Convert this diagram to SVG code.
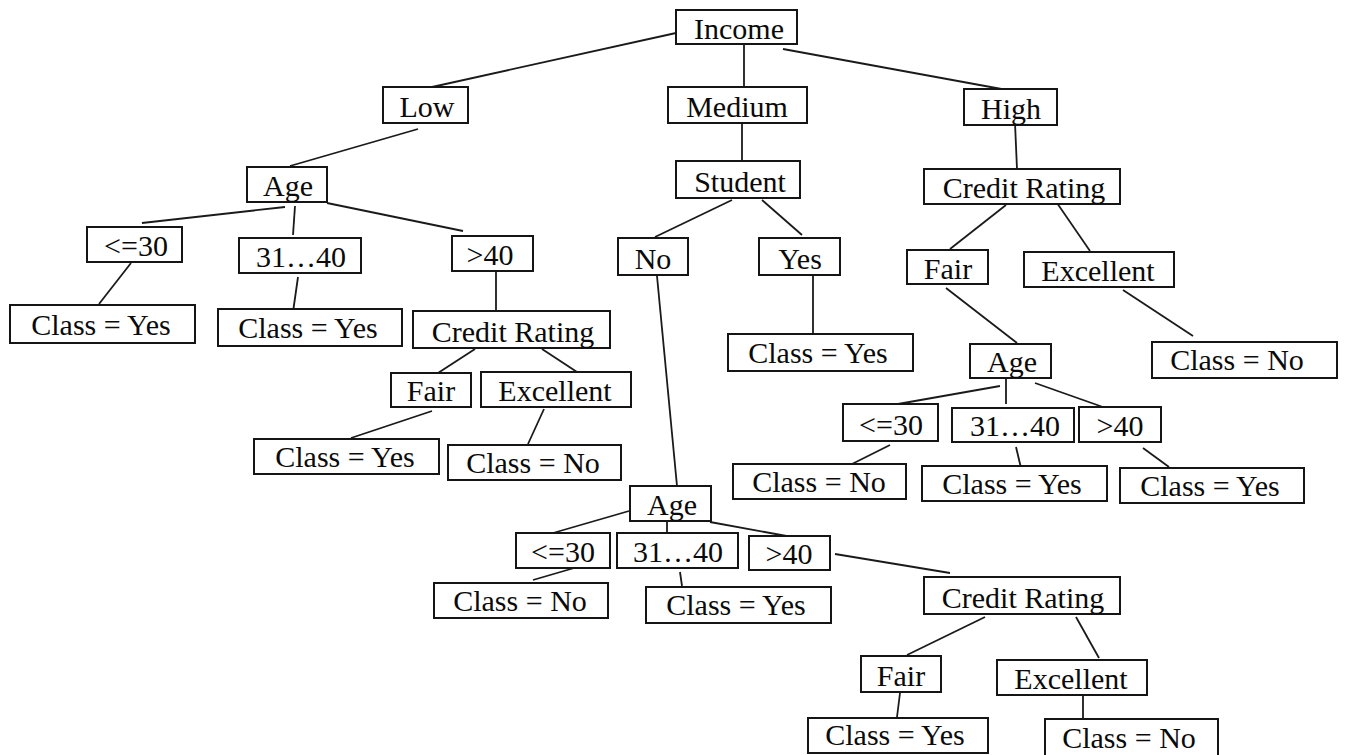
<svg xmlns="http://www.w3.org/2000/svg" width="1347" height="755" viewBox="0 0 1347 755">
  <style>
    .box { fill: #ffffff; stroke: #151515; stroke-width: 2; }
    .lbl { font-family: 'Liberation Serif', 'Times New Roman', Times, serif; font-size: 30px; fill: #0a0a0a; text-anchor: middle; }
    .edge line { stroke: #1a1a1a; stroke-width: 1.8; }
  </style>
  <rect x="0" y="0" width="1347" height="755" fill="#ffffff"/>

  <!-- connectors -->
  <g id="connectors" class="edge">
    <line x1="676" y1="33" x2="423" y2="89"/>
    <line x1="744" y1="44" x2="744" y2="87"/>
    <line x1="783" y1="49" x2="1007" y2="90"/>
    <line x1="418" y1="129" x2="290" y2="166"/>
    <line x1="285" y1="207" x2="142" y2="223"/>
    <line x1="295" y1="206" x2="293" y2="235"/>
    <line x1="327" y1="203" x2="463" y2="231"/>
    <line x1="131" y1="263" x2="99" y2="304"/>
    <line x1="298" y1="277" x2="293" y2="312"/>
    <line x1="496" y1="271" x2="496" y2="311"/>
    <line x1="742" y1="123" x2="742" y2="161"/>
    <line x1="732" y1="200" x2="655" y2="237"/>
    <line x1="762" y1="200" x2="802" y2="235"/>
    <line x1="813" y1="275" x2="813" y2="334"/>
    <line x1="657" y1="276" x2="677" y2="486"/>
    <line x1="1015" y1="123" x2="1017" y2="169"/>
    <line x1="1006" y1="205" x2="950" y2="249"/>
    <line x1="1057" y1="203" x2="1090" y2="251"/>
    <line x1="946" y1="288" x2="1017" y2="343"/>
    <line x1="1123" y1="290" x2="1193" y2="336"/>
    <line x1="1000" y1="386" x2="898" y2="404"/>
    <line x1="1006" y1="378" x2="1006" y2="404"/>
    <line x1="1035" y1="383" x2="1117" y2="412"/>
    <line x1="890" y1="445" x2="836" y2="472"/>
    <line x1="1016" y1="447" x2="1021" y2="468"/>
    <line x1="1143" y1="448" x2="1169" y2="467"/>
    <line x1="475" y1="349" x2="438" y2="373"/>
    <line x1="542" y1="349" x2="577" y2="372"/>
    <line x1="432" y1="411" x2="351" y2="438"/>
    <line x1="544" y1="409" x2="528" y2="444"/>
    <line x1="629" y1="511" x2="553" y2="533"/>
    <line x1="667" y1="521" x2="667" y2="533"/>
    <line x1="710" y1="522" x2="792" y2="537"/>
    <line x1="581" y1="566" x2="533" y2="580"/>
    <line x1="680" y1="572" x2="682" y2="586"/>
    <line x1="835" y1="554" x2="950" y2="573"/>
    <line x1="985" y1="617" x2="907" y2="655"/>
    <line x1="1076" y1="617" x2="1099" y2="658"/>
    <line x1="900" y1="693" x2="897" y2="717"/>
    <line x1="1083" y1="696" x2="1083" y2="719"/>
  </g>

  <!-- root -->
  <g id="income"><rect class="box" x="676" y="10" width="121" height="34"/><text class="lbl" x="739" y="39">Income</text></g>

  <!-- income branches -->
  <g id="low"><rect class="box" x="383" y="87" width="85" height="36"/><text class="lbl" x="427" y="117">Low</text></g>
  <g id="medium"><rect class="box" x="668" y="87" width="139" height="36"/><text class="lbl" x="737" y="117">Medium</text></g>
  <g id="high"><rect class="box" x="964" y="89" width="93" height="36"/><text class="lbl" x="1011" y="119">High</text></g>

  <!-- low income subtree -->
  <g id="low-age"><rect class="box" x="247" y="167" width="80" height="35"/><text class="lbl" x="288" y="196">Age</text></g>
  <g id="low-age-le30"><rect class="box" x="87" y="227" width="95" height="35"/><text class="lbl" x="136" y="256">&lt;=30</text></g>
  <g id="low-age-31-40"><rect class="box" x="239" y="238" width="122" height="35"/><text class="lbl" x="301" y="267">31…40</text></g>
  <g id="low-age-gt40"><rect class="box" x="452" y="236" width="81" height="35"/><text class="lbl" x="490" y="265">&gt;40</text></g>
  <g id="low-le30-class"><rect class="box" x="10" y="305" width="185" height="38"/><text class="lbl" x="101" y="335">Class = Yes</text></g>
  <g id="low-31-40-class"><rect class="box" x="218" y="309" width="184" height="37"/><text class="lbl" x="308" y="338">Class = Yes</text></g>
  <g id="low-credit"><rect class="box" x="413" y="311" width="197" height="37"/><text class="lbl" x="513" y="342">Credit Rating</text></g>
  <g id="low-credit-fair"><rect class="box" x="391" y="373" width="80" height="34"/><text class="lbl" x="431" y="401">Fair</text></g>
  <g id="low-credit-excellent"><rect class="box" x="481" y="372" width="150" height="35"/><text class="lbl" x="555" y="401">Excellent</text></g>
  <g id="low-fair-class"><rect class="box" x="254" y="439" width="185" height="35"/><text class="lbl" x="345" y="467">Class = Yes</text></g>
  <g id="low-excellent-class"><rect class="box" x="448" y="445" width="173" height="35"/><text class="lbl" x="533" y="473">Class = No</text></g>

  <!-- medium income subtree -->
  <g id="student"><rect class="box" x="676" y="161" width="124" height="37"/><text class="lbl" x="740" y="192">Student</text></g>
  <g id="student-no"><rect class="box" x="618" y="238" width="70" height="37"/><text class="lbl" x="653" y="269">No</text></g>
  <g id="student-yes"><rect class="box" x="759" y="238" width="81" height="37"/><text class="lbl" x="800" y="269">Yes</text></g>
  <g id="student-yes-class"><rect class="box" x="728" y="334" width="185" height="37"/><text class="lbl" x="818" y="363">Class = Yes</text></g>
  <g id="no-age"><rect class="box" x="630" y="486" width="81" height="35"/><text class="lbl" x="672" y="515">Age</text></g>
  <g id="no-age-le30"><rect class="box" x="516" y="533" width="94" height="35"/><text class="lbl" x="563" y="562">&lt;=30</text></g>
  <g id="no-age-31-40"><rect class="box" x="617" y="533" width="121" height="35"/><text class="lbl" x="678" y="562">31…40</text></g>
  <g id="no-age-gt40"><rect class="box" x="749" y="536" width="81" height="34"/><text class="lbl" x="789" y="564">&gt;40</text></g>
  <g id="no-le30-class"><rect class="box" x="434" y="583" width="174" height="35"/><text class="lbl" x="520" y="611">Class = No</text></g>
  <g id="no-31-40-class"><rect class="box" x="646" y="587" width="185" height="36"/><text class="lbl" x="736" y="615">Class = Yes</text></g>
  <g id="no-credit"><rect class="box" x="924" y="577" width="196" height="37"/><text class="lbl" x="1023" y="608">Credit Rating</text></g>
  <g id="no-credit-fair"><rect class="box" x="861" y="656" width="80" height="36"/><text class="lbl" x="901" y="686">Fair</text></g>
  <g id="no-credit-excellent"><rect class="box" x="997" y="660" width="150" height="35"/><text class="lbl" x="1071" y="689">Excellent</text></g>
  <g id="no-fair-class"><rect class="box" x="808" y="718" width="180" height="35"/><text class="lbl" x="895" y="745">Class = Yes</text></g>
  <g id="no-excellent-class"><rect class="box" x="1045" y="719" width="173" height="38"/><text class="lbl" x="1129" y="748">Class = No</text></g>

  <!-- high income subtree -->
  <g id="high-credit"><rect class="box" x="924" y="169" width="196" height="35"/><text class="lbl" x="1024" y="198">Credit Rating</text></g>
  <g id="high-credit-fair"><rect class="box" x="907" y="250" width="81" height="34"/><text class="lbl" x="948" y="279">Fair</text></g>
  <g id="high-credit-excellent"><rect class="box" x="1024" y="252" width="150" height="35"/><text class="lbl" x="1098" y="281">Excellent</text></g>
  <g id="high-excellent-class"><rect class="box" x="1152" y="342" width="185" height="36"/><text class="lbl" x="1237" y="370">Class = No</text></g>
  <g id="high-age"><rect class="box" x="970" y="344" width="81" height="34"/><text class="lbl" x="1012" y="372">Age</text></g>
  <g id="high-age-le30"><rect class="box" x="843" y="404" width="95" height="37"/><text class="lbl" x="891" y="435">&lt;=30</text></g>
  <g id="high-age-31-40"><rect class="box" x="952" y="408" width="122" height="34"/><text class="lbl" x="1015" y="436">31…40</text></g>
  <g id="high-age-gt40"><rect class="box" x="1079" y="407" width="82" height="35"/><text class="lbl" x="1120" y="436">&gt;40</text></g>
  <g id="high-le30-class"><rect class="box" x="733" y="464" width="173" height="35"/><text class="lbl" x="819" y="492">Class = No</text></g>
  <g id="high-31-40-class"><rect class="box" x="922" y="466" width="185" height="35"/><text class="lbl" x="1012" y="494">Class = Yes</text></g>
  <g id="high-gt40-class"><rect class="box" x="1120" y="468" width="184" height="35"/><text class="lbl" x="1210" y="496">Class = Yes</text></g>
</svg>
